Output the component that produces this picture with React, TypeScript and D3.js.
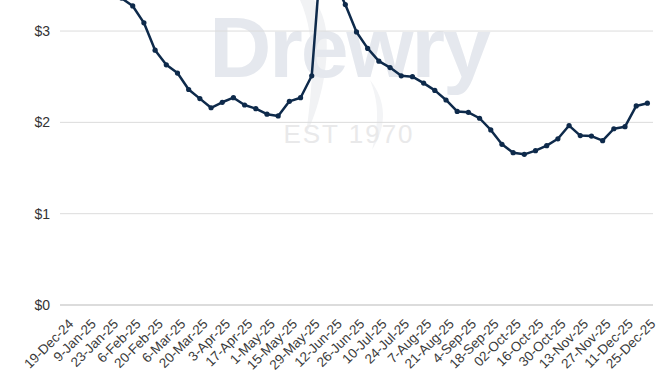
import React from "react";
import * as d3 from "d3";

const dates = [
  "19-Dec-24", "2-Jan-25", "9-Jan-25", "16-Jan-25", "23-Jan-25", "30-Jan-25",
  "6-Feb-25", "13-Feb-25", "20-Feb-25", "27-Feb-25", "6-Mar-25", "13-Mar-25",
  "20-Mar-25", "27-Mar-25", "3-Apr-25", "10-Apr-25", "17-Apr-25", "24-Apr-25",
  "1-May-25", "8-May-25", "15-May-25", "22-May-25", "29-May-25", "5-Jun-25",
  "12-Jun-25", "19-Jun-25", "26-Jun-25", "3-Jul-25", "10-Jul-25", "17-Jul-25",
  "24-Jul-25", "31-Jul-25", "7-Aug-25", "14-Aug-25", "21-Aug-25", "28-Aug-25",
  "4-Sep-25", "11-Sep-25", "18-Sep-25", "25-Sep-25", "02-Oct-25", "09-Oct-25",
  "16-Oct-25", "23-Oct-25", "30-Oct-25", "6-Nov-25", "13-Nov-25", "20-Nov-25",
  "27-Nov-25", "4-Dec-25", "11-Dec-25", "18-Dec-25", "25-Dec-25",
];

const values = [
  3.8, 3.9, 3.96, 3.79, 3.59, 3.36,
  3.275, 3.09, 2.79, 2.63, 2.54, 2.36,
  2.26, 2.16, 2.22, 2.27, 2.19, 2.15,
  2.09, 2.07, 2.23, 2.27, 2.51, 4.1,
  3.55, 3.29, 2.99, 2.81, 2.67, 2.6,
  2.51, 2.5, 2.43, 2.35, 2.245, 2.12,
  2.11, 2.045, 1.917, 1.76, 1.668, 1.65,
  1.69, 1.745, 1.82, 1.965, 1.855, 1.85,
  1.8, 1.93, 1.953, 2.18, 2.21,
];

const yTicks = [0, 1, 2, 3];

export default function App() {
  const W = 670;
  const H = 380;
  const x = d3
    .scalePoint<number>()
    .domain(d3.range(values.length))
    .range([60, 653])
    .padding(0.5);
  const y = d3.scaleLinear().domain([0, 3.34]).range([305, 0]);
  const line = d3
    .line<number>()
    .x((_, i) => x(i) as number)
    .y((d) => y(d))
    .curve(d3.curveLinear);
  const font = "'Liberation Sans', Arial, Helvetica, sans-serif";
  const navy = "#0e2a4b";

  return (
    <svg
      width={W}
      height={H}
      style={{ position: "absolute", left: 0, top: 0, background: "#fff" }}
      fontFamily={font}
    >
      {/* watermark */}
      <g>
        <path
          d="M300,0 C318,40 312,90 306,135 C318,110 330,70 326,30 C324,15 318,5 314,0 Z"
          fill="#f1f2f4"
        />
        <path
          d="M372,150 C380,120 378,100 370,80 C386,100 388,125 372,150 Z"
          fill="#f3f4f6"
        />
        <text
          x={349}
          y={77}
          textAnchor="middle"
          fontSize={86}
          fontWeight={700}
          fill="#e5e8ee"
          fontFamily="'Liberation Sans', Arial, sans-serif"
          letterSpacing={-2}
        >
          Drewry
        </text>
        <text
          x={349}
          y={143}
          textAnchor="middle"
          fontSize={26}
          fill="#e9e9ea"
          letterSpacing={2}
        >
          EST 1970
        </text>
      </g>

      {/* grid */}
      {yTicks.map((t) => (
        <g key={t}>
          <line
            x1={60}
            x2={653}
            y1={y(t)}
            y2={y(t)}
            stroke={t === 0 ? "#b9b9b9" : "#dcdcdc"}
            strokeWidth={1}
          />
          <text
            x={50}
            y={y(t)}
            dy="0.35em"
            textAnchor="end"
            fontSize={14}
            fill="#333"
          >
            {"$" + t}
          </text>
        </g>
      ))}

      {/* x labels */}
      {dates.map((d, i) =>
        i % 2 === 0 ? (
          <text
            key={d}
            transform={`translate(${(x(i) as number) + 2},${318}) rotate(-45)`}
            textAnchor="end"
            dy="0.71em"
            fontSize={13.5}
            fill="#3a3a3a"
          >
            {d}
          </text>
        ) : null
      )}

      {/* line */}
      <path
        d={line(values) || ""}
        fill="none"
        stroke={navy}
        strokeWidth={2.5}
        strokeLinejoin="round"
      />
      {values.map((v, i) => (
        <circle key={i} cx={x(i) as number} cy={y(v)} r={2.6} fill={navy} />
      ))}
    </svg>
  );
}
